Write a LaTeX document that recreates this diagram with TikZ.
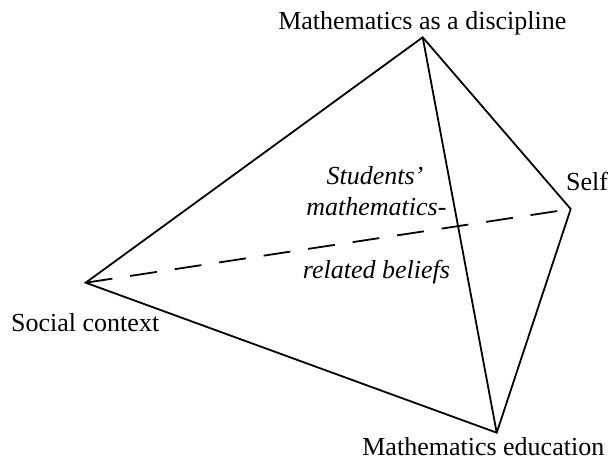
\documentclass[tikz,border=0pt]{standalone}
\usepackage{fontspec}
\setmainfont{Liberation Serif}
\begin{document}
\begin{tikzpicture}[x=1pt,y=-1pt,
  edge/.style={line width=1.8pt, line join=miter, black},
  hidden/.style={line width=1.8pt, dash pattern=on 27pt off 18pt, black},
  lbl/.style={inner sep=0pt, font=\fontsize{26}{30}\selectfont},
  ilbl/.style={inner sep=0pt, font=\fontsize{26}{30}\selectfont\itshape, anchor=base}]
\useasboundingbox (0,0) rectangle (613,461);
\coordinate (T) at (422.7,37.3);
\coordinate (S) at (570.7,209);
\coordinate (L) at (85.7,282.7);
\coordinate (B) at (496.7,432.7);
% edges
\draw[edge] (L) -- (T) -- (S) -- (B) -- cycle;
\draw[edge] (T) -- (B);
\draw[hidden] (L) -- (S);
% labels
\node[lbl, anchor=base] (tl) at (422.3,29) {Mathematics as a discipline};
\node[lbl, anchor=base west] (sl) at (566,190.7) {Self};
\node[lbl, anchor=base west] (ll) at (11,331.7) {Social context};
\node[lbl, anchor=base] (bl) at (483.3,455) {Mathematics education};
\node[ilbl] (c1) at (375,184) {Students’};
\node[ilbl] (c2) at (376.4,215) {mathematics-};
\node[ilbl] (c3) at (376.4,278.3) {related beliefs};
\end{tikzpicture}
\end{document}
